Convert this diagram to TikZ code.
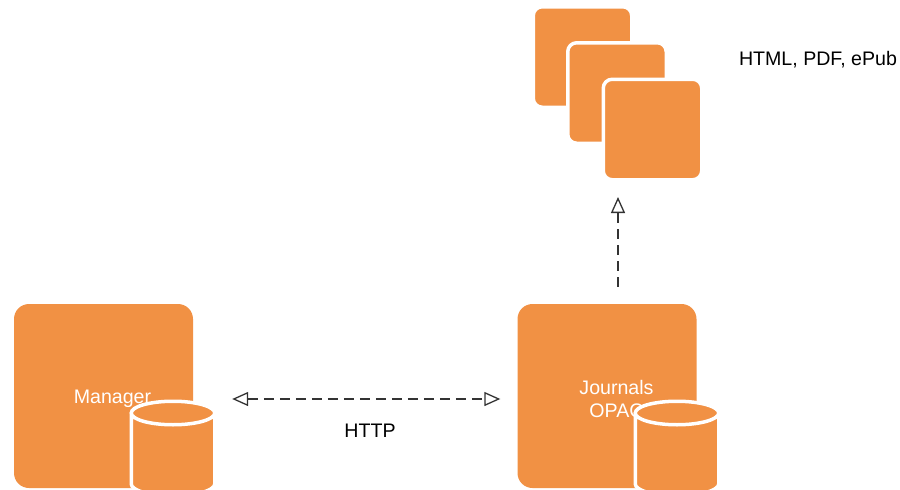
\documentclass[tikz,border=0pt]{standalone}
\usepackage{fontspec}
\setmainfont{Liberation Sans}
\usetikzlibrary{arrows.meta}
\definecolor{boxorange}{HTML}{F19144}

\begin{document}
\begin{tikzpicture}[x=1pt, y=-1pt, font=\fontsize{19.6}{23}\selectfont,
    >={Triangle[open,length=16pt,width=14pt]},
    panel/.style={rectangle, fill=boxorange, rounded corners=15pt, minimum width=179pt, minimum height=184pt, inner sep=0pt},
    paneltext/.style={text=white, align=center, inner sep=0pt},
    sheet/.style={rectangle, fill=boxorange, draw=white, line width=3.5pt, rounded corners=9pt, minimum width=98.5pt, minimum height=100.5pt},
    store/.style={fill=boxorange, draw=white, line width=3.5pt},
    link/.style={dash pattern=on 10pt off 6pt, line width=1.3pt, black!80}]
  \useasboundingbox (0,0) rectangle (900,490);

  % servers
  \node[panel] (manager) at (103.5,396) {};
  \node[panel] (opac) at (607,396) {};
  \node[paneltext] (managertext) at (112.5,399) {Manager};
  \node[paneltext] (opactext) at (616.5,399) {Journals\\OPAC};

  % databases
  \foreach \c in {173, 677} {
    \draw[store] (\c-41.75,413) -- (\c-41.75,484) arc[start angle=180, end angle=360, x radius=41.75pt, y radius=11.75pt]
      -- (\c+41.75,413) arc[start angle=0, end angle=180, x radius=41.75pt, y radius=11.75pt]
      arc[start angle=180, end angle=360, x radius=41.75pt, y radius=11.75pt];
  }

  % output formats
  \foreach \n/\p/\q in {1/582.5/57, 2/617/93, 3/652.5/129.5} {
    \node[sheet] (sheet\n) at (\p,\q) {};
  }
  \node (formats) at (818,60) {HTML, PDF, ePub};

  % connectors
  \draw[link, <->, shorten <=39pt, shorten >=17pt] ([yshift=-3pt]manager.east) -- ([yshift=-3pt]opac.west);
  \node (http) at (370,431) {HTTP};
  \draw[link, ->, shorten <=17pt, shorten >=15.5pt] ([xshift=11pt]opac.north) -- ([xshift=-34.5pt]sheet3.south);

\end{tikzpicture}
\end{document}
